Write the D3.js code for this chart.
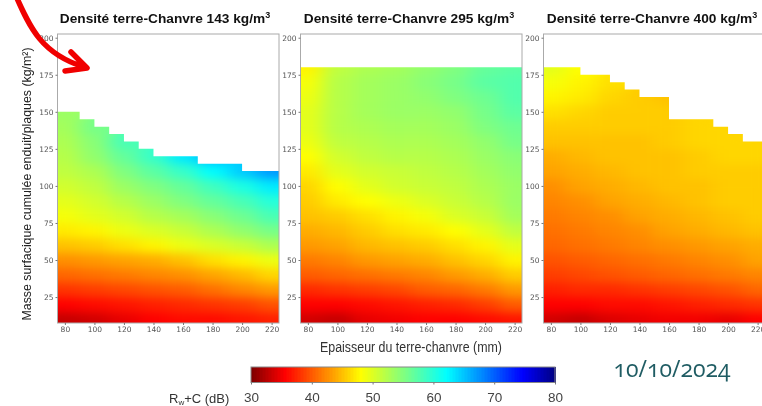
<!DOCTYPE html>
<html>
<head>
<meta charset="utf-8">
<script src="https://cdn.jsdelivr.net/npm/d3@7"></script>
<style>
  html, body { margin: 0; background: #fff; overflow: hidden; }
  svg { filter: blur(0.4px); }
  text { font-family: "Liberation Sans", Arial, sans-serif; }
  .tick text { font-family: "DejaVu Sans", sans-serif; font-size: 7.5px; fill: #555; }
  .tick line { stroke: #777; }
  .cbar .tick text { font-family: "Liberation Sans", Arial, sans-serif; font-size: 13.5px; fill: #444; }
</style>
</head>
<body>
<script>
const width = 762, height = 406

const thickness = [80, 100, 120, 140, 160, 180, 200, 220]
const mass = [10, 20, 30, 40, 50, 60, 70, 80, 90, 100, 110, 120, 130, 140, 150, 160, 170, 180]
const xTicks = [80, 100, 120, 140, 160, 180, 200, 220]
const yTicks = [25, 50, 75, 100, 125, 150, 175, 200]
const cbarTicks = [30, 40, 50, 60, 70, 80]

// Rw+C in dB, one row per mass, bottom to top, null = no configuration
const rw143 = [
  [33, 33.5, 34.5, 35.5, 36, 36, 36.5, 37],
  [35.5, 36, 36.5, 37, 37.5, 38, 38.5, 39.5],
  [38, 38.5, 39, 39.5, 40, 41, 42, 43],
  [40.5, 41, 41.5, 42, 42.5, 43.5, 44.5, 46],
  [42.5, 43, 43.5, 44, 45, 46.5, 47.5, 49],
  [45, 45.5, 46.5, 47.5, 49, 50, 51, 52.5],
  [47, 47.5, 49, 50, 51, 52.5, 54, 55.5],
  [48.5, 49.5, 50.5, 52, 53, 54.5, 56, 58],
  [49.5, 50.5, 52, 53.5, 55, 56.5, 58, 60],
  [50.5, 51.5, 53.5, 55, 56.5, 58.5, 60.5, 63],
  [51.5, 52.5, 55, 57, 59, 62, 64.5, 67],
  [52, 54, 56.5, 59, 63, 65.5, null, null],
  [52.5, 54.5, 58, null, null, null, null, null],
  [53, 55.5, null, null, null, null, null, null],
  [53.5, null, null, null, null, null, null, null]
]
const rw295 = [
  [33.5, 33, 34.5, 35, 35.5, 35.5, 36, 36.5],
  [35.5, 35.5, 36, 36.5, 37, 37.5, 38.5, 40],
  [37.5, 38, 38.5, 39, 40, 40.5, 41.5, 43],
  [40, 40.5, 41, 41.5, 42, 43, 44, 45.5],
  [41.5, 42, 43, 43.5, 44, 45, 46, 47.5],
  [43, 43.5, 44.5, 45, 45.5, 46.5, 47.5, 49.5],
  [44, 44.5, 45.5, 46.5, 47, 48, 49.5, 51.5],
  [45, 45.5, 46.5, 47.5, 48.5, 50, 51, 53],
  [45.5, 47, 48, 49, 50, 51, 52, 53.5],
  [46, 48, 49.5, 50.5, 51, 51.5, 52.5, 53.5],
  [47, 49.5, 50.5, 51, 51.5, 52, 53, 54],
  [48, 50.5, 51.5, 52, 52, 52.5, 53.5, 54.5],
  [49, 51.5, 52, 52.5, 52.5, 53, 54, 55.5],
  [49.5, 52, 52.5, 53, 53, 53.5, 55, 56],
  [49.5, 52, 53, 53.5, 53.5, 54, 55.5, 57],
  [49, 52, 53, 53.5, 54, 55, 56, 57.5],
  [48.5, 52, 53, 53.5, 54.5, 55.5, 57, 57.5],
  [47.5, 51.5, 52.5, 53, 54, 55, 56.5, 57]
]
const rw400 = [
  [33.5, 33, 34, 34.5, 35, 35, 34.5, 35.5],
  [35.5, 35.5, 36, 36, 36.5, 37, 37.5, 38],
  [37, 37.5, 37.5, 38, 38.5, 39, 39.5, 40.5],
  [38.5, 39, 39.5, 40, 40.5, 41, 41.5, 42],
  [39.5, 40, 40.5, 41, 41.5, 42, 42.5, 43.5],
  [40.5, 41, 41.5, 42, 42.5, 43, 43.5, 44],
  [41, 41.5, 42, 42.5, 43.5, 44, 44.5, 45],
  [41.5, 42, 42.5, 43.5, 44, 44.5, 45, 45.5],
  [42, 42.5, 43.5, 44, 44.5, 45, 45.5, 45.5],
  [42.5, 43.5, 44, 44.5, 45, 45, 45.5, 45.5],
  [43.5, 44, 44.5, 45, 45, 45.5, 45.5, 45.5],
  [44, 44.5, 45, 45, 45, 45.5, 46, 46],
  [45, 45, 45, 45, 45.5, 46, 46, 46],
  [45.5, 45.5, 45.5, 45.5, 45.5, 46, 46, null],
  [46.5, 46, 45.5, 45.5, 45.5, 46, null, null],
  [47.5, 47, 46, 45.5, 45, null, null, null],
  [48.5, 47.5, 46.5, null, null, null, null, null],
  [49.5, 48, null, null, null, null, null, null]
]

// upper limit of the calculated area, staircase
const edges143 = [75, 90, 100, 110, 120, 130, 140, 170, 200, 225]
const tops143 = [150, 145, 140, 135, 130, 125, 120, 115, 110, 110]
const edges295 = [75, 225]
const tops295 = [180, 180]
const edges400 = [75, 100, 120, 130, 140, 160, 190, 200, 210, 225]
const tops400 = [180, 175, 170, 165, 160, 145, 140, 135, 130, 130]

const jetStops = [30, 35.5, 48, 55, 62, 74.5, 80]
const jetColors = ["#800000", "#ff0000", "#ffff00", "#80ff80", "#00ffff", "#0000ff", "#000080"]

const color = d3.scaleLinear().domain(jetStops).range(jetColors).clamp(true)

const svg = d3.select("body")
  .append("svg")
  .attr("width", width)
  .attr("height", height)
  .style("display", "block")

const defs = svg.append("defs")

const panels = [
  { id: "p143", title: "143", left: 57.5, rows: rw143, edges: edges143, tops: tops143, titleX: 165 },
  { id: "p295", title: "295", left: 300.5, rows: rw295, edges: edges295, tops: tops295, titleX: 409 },
  { id: "p400", title: "400", left: 543.5, rows: rw400, edges: edges400, tops: tops400, titleX: 652 }
]

const plotW = 221.5, plotTop = 34, plotBottom = 323

panels.forEach(p => {
  const x = d3.scaleLinear().domain([75, 225]).range([p.left, p.left + plotW])
  const y = d3.scaleLinear().domain([7.5, 202.5]).range([plotBottom, plotTop])

  // smooth the grid like the imshow interpolation of the original
  const filter = defs.append("filter")
    .attr("id", "smooth-" + p.id)
    .attr("filterUnits", "userSpaceOnUse")
    .attr("x", p.left - 40).attr("y", plotTop - 40)
    .attr("width", plotW + 80).attr("height", plotBottom - plotTop + 80)
    .attr("color-interpolation-filters", "sRGB")
  filter.append("feGaussianBlur").attr("stdDeviation", "9 5")
  filter.append("feComponentTransfer")
    .append("feFuncA").attr("type", "linear").attr("slope", 40)

  const area = d3.area()
    .curve(d3.curveStepAfter)
    .x(d => x(d[0]))
    .y0(y(7.5))
    .y1(d => y(d[1]))
  defs.append("clipPath")
    .attr("id", "clip-" + p.id)
    .append("path")
    .attr("d", area(p.edges.map((e, i) => [e, p.tops[i]])))

  const cells = []
  p.rows.forEach((row, j) => row.forEach((v, i) => {
    if (v !== null) cells.push({ t: thickness[i], m: mass[j], v: v })
  }))

  svg.append("g")
    .attr("clip-path", "url(#clip-" + p.id + ")")
    .append("g")
    .attr("filter", "url(#smooth-" + p.id + ")")
    .selectAll("rect")
    .data(cells)
    .enter()
    .append("rect")
    .attr("x", d => x(d.t - 10))
    .attr("y", d => y(d.m + 5))
    .attr("width", x(95) - x(75) + 0.5)
    .attr("height", y(0) - y(10) + 0.5)
    .attr("fill", d => color(d.v))

  svg.append("rect")
    .attr("x", p.left).attr("y", plotTop)
    .attr("width", plotW).attr("height", plotBottom - plotTop)
    .attr("fill", "none")
    .attr("stroke", "#aaa")

  const xAxis = d3.axisBottom(x).tickValues(xTicks).tickSize(2).tickPadding(2)
  const yAxis = d3.axisLeft(y).tickValues(yTicks).tickSize(2).tickPadding(2)
  svg.append("g")
    .attr("transform", "translate(0," + plotBottom + ")")
    .call(xAxis)
    .call(g => g.select(".domain").remove())
  svg.append("g")
    .attr("transform", "translate(" + p.left + ",0)")
    .call(yAxis)
    .call(g => g.select(".domain").remove())

  const title = svg.append("text")
    .attr("x", p.titleX)
    .attr("y", 23)
    .attr("text-anchor", "middle")
    .attr("font-size", 13.7)
    .attr("font-weight", "bold")
    .attr("fill", "#111")
    .text("Densité terre-Chanvre " + p.title + " kg/m")
  title.append("tspan").attr("dy", -5).attr("font-size", 9).text("3")
})

svg.append("text")
  .attr("transform", "translate(31,184) rotate(-90)")
  .attr("text-anchor", "middle")
  .attr("font-size", 13.5)
  .attr("textLength", 273)
  .attr("lengthAdjust", "spacingAndGlyphs")
  .attr("fill", "#222")
  .text("Masse surfacique cumulée enduit/plaques (kg/m²)")

svg.append("text")
  .attr("x", 411)
  .attr("y", 352)
  .attr("text-anchor", "middle")
  .attr("font-size", 14)
  .attr("textLength", 182)
  .attr("lengthAdjust", "spacingAndGlyphs")
  .attr("fill", "#333")
  .text("Epaisseur du terre-chanvre (mm)")

// colorbar
const cbarScale = d3.scaleLinear().domain([30, 80]).range([251, 555])
const cbarSteps = d3.range(30, 80, 0.25)
const cbar = svg.append("g").attr("class", "cbar")
cbar.selectAll("rect")
  .data(cbarSteps)
  .enter()
  .append("rect")
  .attr("x", d => cbarScale(d))
  .attr("y", 367)
  .attr("width", cbarScale(30.25) - cbarScale(30) + 0.5)
  .attr("height", 15.5)
  .attr("shape-rendering", "crispEdges")
  .attr("fill", d => color(d))
cbar.append("rect")
  .attr("x", 251).attr("y", 367)
  .attr("width", 304).attr("height", 15.5)
  .attr("fill", "none")
  .attr("stroke", "#888")
cbar.append("g")
  .attr("transform", "translate(0,382.5)")
  .call(d3.axisBottom(cbarScale).tickValues(cbarTicks).tickSize(2).tickPadding(8))
  .call(g => g.select(".domain").remove())

const cbarLabel = svg.append("text")
  .attr("x", 169)
  .attr("y", 403)
  .attr("font-size", 13)
  .attr("fill", "#333")
  .text("R")
cbarLabel.append("tspan").attr("dy", 2).attr("font-size", 8).text("w")
cbarLabel.append("tspan").attr("dy", -2).text("+C (dB)")

svg.append("text")
  .attr("x", 672)
  .attr("y", 377)
  .attr("text-anchor", "middle")
  .attr("font-size", 23)
  .attr("fill", "#1f5c63")
  .style("font-family", "'Open Sans', sans-serif")
  .style("font-variant-numeric", "oldstyle-nums")
  .text("10/10/2024")

// red annotation arrow
const arrow = d3.path()
arrow.moveTo(16, -4)
arrow.bezierCurveTo(30, 28, 42, 54, 84, 67)
arrow.moveTo(71, 52)
arrow.lineTo(87, 68)
arrow.lineTo(65, 71)
svg.append("path")
  .attr("d", arrow.toString())
  .attr("fill", "none")
  .attr("stroke", "#f00000")
  .attr("stroke-width", 5.5)
  .attr("stroke-linecap", "round")
  .attr("stroke-linejoin", "round")
</script>
</body>
</html>
